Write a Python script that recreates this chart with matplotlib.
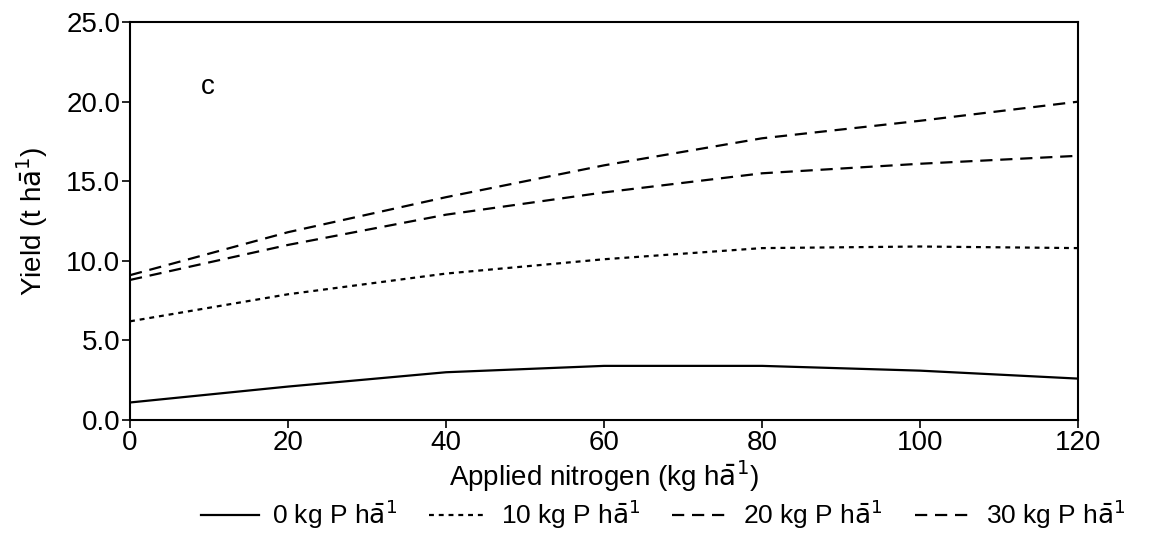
import matplotlib.pyplot as plt

plt.rcParams['font.family'] = ['Liberation Sans', 'DejaVu Sans']

# applied nitrogen (kg/ha) and yield (t/ha) per P rate
nitrogen = [0, 20, 40, 60, 80, 100, 120]
yield_p0 = [1.1, 2.1, 3.0, 3.4, 3.4, 3.1, 2.6]
yield_p10 = [6.2, 7.9, 9.2, 10.1, 10.8, 10.9, 10.8]
yield_p20 = [8.8, 11.0, 12.9, 14.3, 15.5, 16.1, 16.6]
yield_p30 = [9.1, 11.8, 14.0, 16.0, 17.7, 18.8, 20.0]
labels = ['0 kg P h$\\bar{\\rm a}^{1}$', '10 kg P h$\\bar{\\rm a}^{1}$',
          '20 kg P h$\\bar{\\rm a}^{1}$', '30 kg P h$\\bar{\\rm a}^{1}$']

fig = plt.figure(figsize=(11.58, 5.39), dpi=100)
ax = fig.add_axes([0.1123, 0.2208, 0.8187, 0.7382])

ax.plot(nitrogen, yield_p0, '-', color='k', lw=1.6, label=labels[0])
ax.plot(nitrogen, yield_p10, color='k', lw=1.6, dashes=(2.2, 2.2), label=labels[1])
ax.plot(nitrogen, yield_p20, color='k', lw=1.6, dashes=(5.5, 3.5), label=labels[2])
ax.plot(nitrogen, yield_p30, color='k', lw=1.6, dashes=(5.5, 3.5), label=labels[3])

ax.set_xlim(0, 120)
ax.set_ylim(0, 25)
ax.set_xticks(range(0, 121, 20))
ax.set_yticks([0, 5, 10, 15, 20, 25])
ax.set_yticklabels(['0.0', '5.0', '10.0', '15.0', '20.0', '25.0'])
ax.tick_params(direction='out', length=6, width=1.2, labelsize=20, pad=1)
for s in ax.spines.values():
    s.set_linewidth(1.5)

ax.text(9.8, 20.9, 'c', fontsize=20, ha='center', va='center')
ax.set_xlabel('Applied nitrogen (kg h$\\bar{\\rm a}^{1}$)', fontsize=20, labelpad=2)
ax.set_ylabel('Yield (t h$\\bar{\\rm a}^{1}$)', fontsize=20, labelpad=12)

fig.legend(loc='center', bbox_to_anchor=(0.573, 0.045), ncol=4, frameon=False,
           fontsize=19, handlelength=2.2, columnspacing=1.2, handletextpad=0.5)

plt.savefig('out.png')
